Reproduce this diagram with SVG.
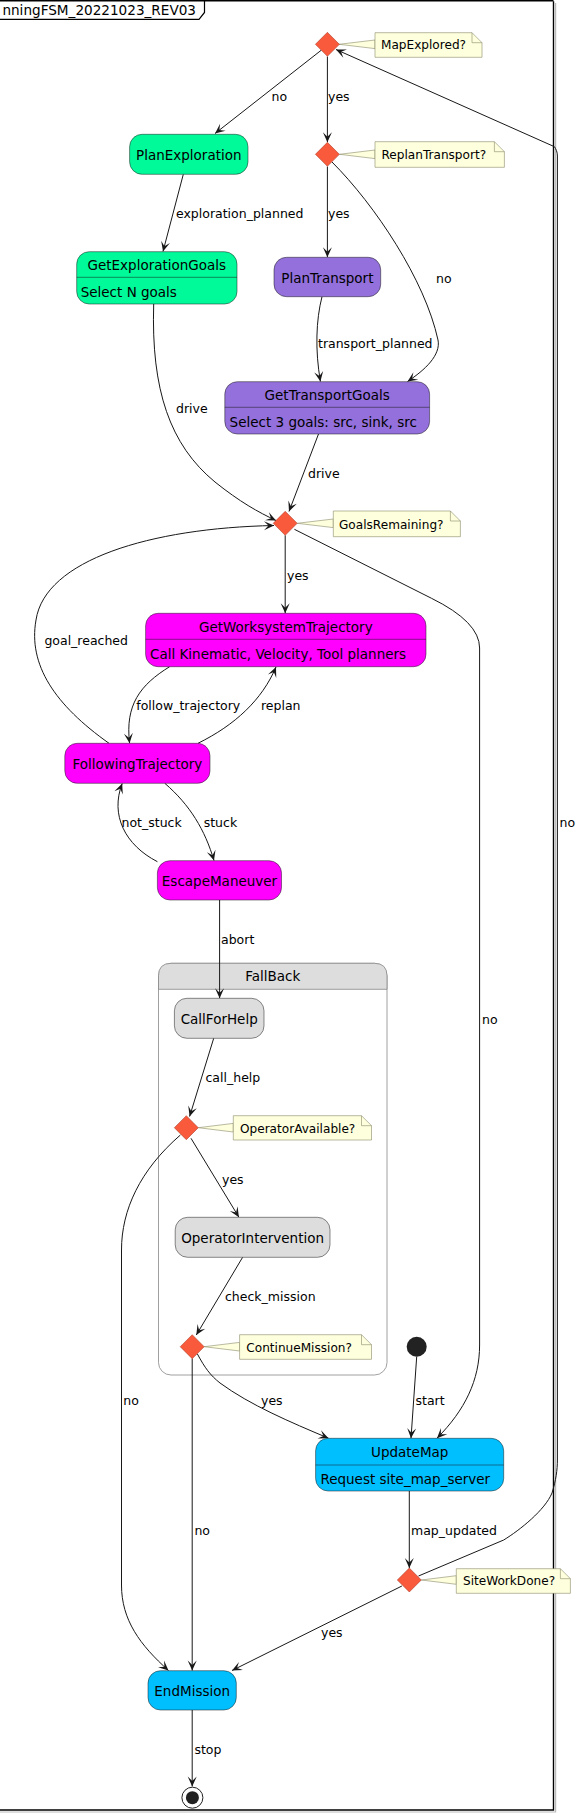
<svg xmlns="http://www.w3.org/2000/svg" width="581" height="1815" viewBox="0 0 581 1815">
<style>
text{font-family:"DejaVu Sans","Liberation Sans",sans-serif;fill:#000}
.sn{font-size:13.5px;text-anchor:middle}
.sb{font-size:13.5px}
.lb{font-size:12.5px}
.nt{font-size:12.1px}
.st{stroke:#181818;stroke-width:0.5}
.e{fill:none;stroke:#181818;stroke-width:1;marker-end:url(#ah)}
.dm{fill:#FA5A3C;stroke:#A0301C;stroke-width:0.5}
.note{fill:#FEFFDD;stroke:#8A8A6A;stroke-width:0.6}
.div{stroke:#181818;stroke-width:0.5}
</style>
<defs>
<marker id="ah" markerUnits="userSpaceOnUse" viewBox="-11 -6 12 12" refX="0" refY="0" markerWidth="12" markerHeight="12" orient="auto">
<path d="M0,0 L-10,-4.5 L-5.5,0 L-10,4.5 Z" fill="#181818"/>
</marker>
</defs>
<rect width="581" height="1815" fill="#fff"/>
<g id="frame">
<path d="M-5,1810 H553.5 V1.2" fill="none" stroke="#000" stroke-width="1.4"/>
<path d="M0,1812 H555.6 V3" fill="none" stroke="#bbb" stroke-width="1.2"/>
<path d="M-5,0.8 H553.5" fill="none" stroke="#000" stroke-width="1.4"/>
<path d="M-5,19.3 H199 L204.5,12.5 V0.8" fill="none" stroke="#000" stroke-width="1.2"/>
<text x="196" y="15" style="font-size:13.6px;text-anchor:end">nningFSM_20221023_REV03</text>
</g>
<g id="FallBack">
<rect x="158.5" y="963.3" width="228.5" height="411.7" rx="12.5" fill="#fff" stroke="#888" stroke-width="0.8"/>
<path d="M158.5,989.3 V975.8 Q158.5,963.3 171,963.3 H374.5 Q387,963.3 387,975.8 V989.3 Z" fill="#DDDDDD" stroke="#888" stroke-width="0.8"/>
<text class="sn" x="272.8" y="981">FallBack</text>
</g>
<g id="connectors">
<path class="e" d="M321.5,50 L215,133.5"/>
<path class="e" d="M327.4,56.5 L327.4,142.3"/>
<path class="e" d="M183.3,174.3 L163,251.5"/>
<path class="e" d="M327.4,166.5 L327.4,257.2"/>
<path class="e" d="M332,162 C375,205 425,280 438,340 C441,355 425,370 407.5,381.5"/>
<path class="e" d="M322,296.7 C316,320 315,350 320.4,381.5"/>
<path class="e" d="M153.7,304 C151,390 170,445 215,482 C240,502 258,512 276,520.5"/>
<path class="e" d="M318.5,434 L289,511.5"/>
<path class="e" d="M285.2,535.3 L285.2,613.2"/>
<path class="e" d="M294.4,529.3 L431.5,598.3 Q479.6,622 479.6,648 L479.6,1345 C479.6,1380 465,1410 437,1438.2"/>
<path class="e" d="M109,743.3 C55,705 28,665 36,620 C45,560 150,528 274,525.5"/>
<path class="e" d="M169.6,666.7 C140,685 125,705 129.6,743.2"/>
<path class="e" d="M198,743.3 C235,725 262,700 276,667"/>
<path class="e" d="M164.8,783.3 C190,805 205,830 214,860.6"/>
<path class="e" d="M157.4,861.7 C125,845 110,815 122.2,783.5"/>
<path class="e" d="M219.6,900 L219.6,998.2"/>
<path class="e" d="M213.7,1038.3 L189.6,1116.5"/>
<path class="e" d="M191,1138.3 L238.9,1217.2"/>
<path class="e" d="M180.4,1135 C140,1170 121.5,1210 121.5,1250 L121.5,1585 C121.5,1620 140,1645 168.5,1670.5"/>
<path class="e" d="M242.6,1257.3 L196.3,1335"/>
<path class="e" d="M192.2,1358.5 L192.2,1670.5"/>
<path class="e" d="M197.4,1354 C205,1368 210,1375 220,1383 C250,1405 290,1422 328.5,1438.2"/>
<path class="e" d="M416.7,1356.7 L411,1438.2"/>
<path class="e" d="M409.3,1491 L409.3,1568"/>
<path class="e" d="M418.5,1576 L503.7,1540 C520,1530 545,1510 552,1493 C556,1480 557.4,1470 557.4,1460 L557.4,156 C557.4,152 556,149 554.4,146.7 L336,49.5"/>
<path class="e" d="M401.9,1586 L232,1670.5"/>
<path class="e" d="M192.2,1710 L192.2,1786.5"/>
<text class="lb" x="271.5" y="101">no</text>
<text class="lb" x="328" y="101">yes</text>
<text class="lb" x="176" y="217.7">exploration_planned</text>
<text class="lb" x="328" y="217.7">yes</text>
<text class="lb" x="436" y="282.7">no</text>
<text class="lb" x="318" y="347.7">transport_planned</text>
<text class="lb" x="176" y="412.7">drive</text>
<text class="lb" x="308" y="477.7">drive</text>
<text class="lb" x="287" y="580.4">yes</text>
<text class="lb" x="44.4" y="645.1">goal_reached</text>
<text class="lb" x="136.3" y="710.1">follow_trajectory</text>
<text class="lb" x="261" y="710.1">replan</text>
<text class="lb" x="121.5" y="827.1">not_stuck</text>
<text class="lb" x="203.7" y="827.1">stuck</text>
<text class="lb" x="559.5" y="827.4">no</text>
<text class="lb" x="221" y="943.7">abort</text>
<text class="lb" x="482" y="1024.4">no</text>
<text class="lb" x="205.5" y="1082.1">call_help</text>
<text class="lb" x="222" y="1184.4">yes</text>
<text class="lb" x="225" y="1301.1">check_mission</text>
<text class="lb" x="123.3" y="1405.4">no</text>
<text class="lb" x="261" y="1405.4">yes</text>
<text class="lb" x="415.5" y="1405.4">start</text>
<text class="lb" x="194.4" y="1535.1">no</text>
<text class="lb" x="411" y="1535.1">map_updated</text>
<text class="lb" x="321" y="1637.1">yes</text>
<text class="lb" x="194.4" y="1753.7">stop</text>
</g>
<g id="MapExplored">
<polygon class="note" points="339,44.3 375,40 375,48.6"/>
<path class="note" d="M375,32.7 H472 L482,42.7 V57.3 H375 Z"/>
<path d="M472,32.7 V42.7 H482" fill="none" stroke="#8A8A6A" stroke-width="0.6"/>
<text class="nt" x="381" y="49.4">MapExplored?</text>
<polygon class="dm" points="327.4,32.3 339.4,44.3 327.4,56.3 315.4,44.3"/>
</g>
<g id="ReplanTransport">
<polygon class="note" points="339.4,154.3 375,150 375,158.6"/>
<path class="note" d="M375,141.7 H494.4 L504.4,151.7 V167.3 H375 Z"/>
<path d="M494.4,141.7 V151.7 H504.4" fill="none" stroke="#8A8A6A" stroke-width="0.6"/>
<text class="nt" x="381.5" y="159.3">ReplanTransport?</text>
<polygon class="dm" points="327.4,142.3 339.4,154.3 327.4,166.3 315.4,154.3"/>
</g>
<g id="PlanExploration">
<rect class="st" x="129.6" y="134.3" width="118.4" height="40" rx="12.5" fill="#00FA9A"/>
<text class="sn" x="188.8" y="159.9">PlanExploration</text>
</g>
<g id="GetExplorationGoals">
<rect class="st" x="76.7" y="251.7" width="160.3" height="52.3" rx="12.5" fill="#00FA9A"/>
<line class="div" x1="76.7" y1="277.3" x2="237" y2="277.3"/>
<text class="sn" x="156.8" y="269.9">GetExplorationGoals</text>
<text class="sb" x="80.7" y="296.6">Select N goals</text>
</g>
<g id="PlanTransport">
<rect class="st" x="274" y="257.3" width="106.7" height="39.4" rx="12.5" fill="#9370DB"/>
<text class="sn" x="327.4" y="282.6">PlanTransport</text>
</g>
<g id="GetTransportGoals">
<rect class="st" x="224.8" y="381.7" width="204.8" height="52.3" rx="12.5" fill="#9370DB"/>
<line class="div" x1="224.8" y1="407.3" x2="429.6" y2="407.3"/>
<text class="sn" x="327.2" y="399.9">GetTransportGoals</text>
<text class="sb" x="229.6" y="426.6">Select 3 goals: src, sink, src</text>
</g>
<g id="GoalsRemaining">
<polygon class="note" points="297.2,523.3 333.3,519 333.3,527.6"/>
<path class="note" d="M333.3,511 H450.4 L460.4,521 V536.7 H333.3 Z"/>
<path d="M450.4,511 V521 H460.4" fill="none" stroke="#8A8A6A" stroke-width="0.6"/>
<text class="nt" x="339" y="528.6">GoalsRemaining?</text>
<polygon class="dm" points="285.2,511.3 297.2,523.3 285.2,535.3 273.2,523.3"/>
</g>
<g id="GetWorksystemTrajectory">
<rect class="st" x="145.6" y="613.3" width="280.4" height="53.4" rx="12.5" fill="#FF00FF"/>
<line class="div" x1="145.6" y1="639.3" x2="426" y2="639.3"/>
<text class="sn" x="285.8" y="631.6">GetWorksystemTrajectory</text>
<text class="sb" x="150" y="658.9">Call Kinematic, Velocity, Tool planners</text>
</g>
<g id="FollowingTrajectory">
<rect class="st" x="64.8" y="743.3" width="145.2" height="40" rx="12.5" fill="#FF00FF"/>
<text class="sn" x="137.4" y="768.9">FollowingTrajectory</text>
</g>
<g id="EscapeManeuver">
<rect class="st" x="157.4" y="860.7" width="124.1" height="39.3" rx="12.5" fill="#FF00FF"/>
<text class="sn" x="219.5" y="885.9">EscapeManeuver</text>
</g>
<g id="CallForHelp">
<rect class="st" x="174.4" y="998.3" width="89.6" height="40" rx="12.5" fill="#DDDDDD"/>
<text class="sn" x="219.2" y="1023.9">CallForHelp</text>
</g>
<g id="OperatorAvailable">
<polygon class="note" points="198.3,1127.7 233.3,1123.4 233.3,1132"/>
<path class="note" d="M233.3,1115.7 H361.5 L371.5,1125.7 V1140 H233.3 Z"/>
<path d="M361.5,1115.7 V1125.7 H371.5" fill="none" stroke="#8A8A6A" stroke-width="0.6"/>
<text class="nt" x="240" y="1132.6">OperatorAvailable?</text>
<polygon class="dm" points="186.3,1115.7 198.3,1127.7 186.3,1139.7 174.3,1127.7"/>
</g>
<g id="OperatorIntervention">
<rect class="st" x="175.2" y="1217.3" width="154.8" height="40" rx="12.5" fill="#DDDDDD"/>
<text class="sn" x="252.6" y="1242.6">OperatorIntervention</text>
</g>
<g id="ContinueMission">
<polygon class="note" points="204.2,1346.7 239.6,1342.4 239.6,1351"/>
<path class="note" d="M239.6,1334.7 H361.5 L371.5,1344.7 V1359.3 H239.6 Z"/>
<path d="M361.5,1334.7 V1344.7 H371.5" fill="none" stroke="#8A8A6A" stroke-width="0.6"/>
<text class="nt" x="246.3" y="1351.6">ContinueMission?</text>
<polygon class="dm" points="192.2,1334.7 204.2,1346.7 192.2,1358.7 180.2,1346.7"/>
</g>
<g id="start">
<circle cx="416.7" cy="1346.7" r="10" fill="#222"/>
</g>
<g id="UpdateMap">
<rect class="st" x="315.6" y="1438.3" width="188.1" height="52.7" rx="12.5" fill="#00BFFF"/>
<line class="div" x1="315.6" y1="1465" x2="503.7" y2="1465"/>
<text class="sn" x="409.7" y="1457.2">UpdateMap</text>
<text class="sb" x="320.4" y="1483.9">Request site_map_server</text>
</g>
<g id="SiteWorkDone">
<polygon class="note" points="421.3,1580 456.3,1575.7 456.3,1584.3"/>
<path class="note" d="M456.3,1568.7 H560.4 L570.4,1578.7 V1593.3 H456.3 Z"/>
<path d="M560.4,1568.7 V1578.7 H570.4" fill="none" stroke="#8A8A6A" stroke-width="0.6"/>
<text class="nt" x="463" y="1585.3">SiteWorkDone?</text>
<polygon class="dm" points="409.3,1568 421.3,1580 409.3,1592 397.3,1580"/>
</g>
<g id="EndMission">
<rect class="st" x="148" y="1670.7" width="88.3" height="39.3" rx="12.5" fill="#00BFFF"/>
<text class="sn" x="192.2" y="1695.6">EndMission</text>
</g>
<g id="end">
<circle cx="192.4" cy="1797.7" r="10.5" fill="#fff" stroke="#222" stroke-width="1"/>
<circle cx="192.4" cy="1797.7" r="6.5" fill="#222"/>
</g>
</svg>
